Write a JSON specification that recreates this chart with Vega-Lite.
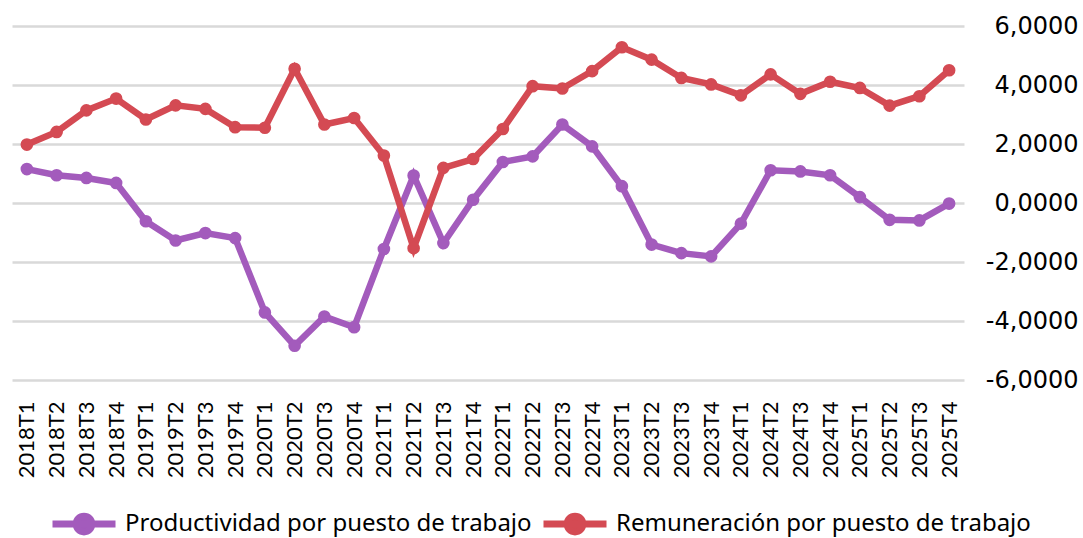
{
  "$schema": "https://vega.github.io/schema/vega-lite/v6.json",
  "width": 952,
  "height": 354,
  "autosize": {"type": "none"},
  "padding": {"left": 12, "top": 26, "right": 119, "bottom": 158},
  "background": "white",
  "config": {"view": {"stroke": null}, "font": "Lato"},
  "datasets": {
    "prod": [
      {"periodo": "2018T1", "valor": 1.15}, {"periodo": "2018T2", "valor": 0.94}, {"periodo": "2018T3", "valor": 0.85}, {"periodo": "2018T4", "valor": 0.68},
      {"periodo": "2019T1", "valor": -0.62}, {"periodo": "2019T2", "valor": -1.27}, {"periodo": "2019T3", "valor": -1.02}, {"periodo": "2019T4", "valor": -1.19},
      {"periodo": "2020T1", "valor": -3.71}, {"periodo": "2020T2", "valor": -4.84}, {"periodo": "2020T3", "valor": -3.85}, {"periodo": "2020T4", "valor": -4.21},
      {"periodo": "2021T1", "valor": -1.56}, {"periodo": "2021T2", "valor": 0.93}, {"periodo": "2021T3", "valor": -1.36}, {"periodo": "2021T4", "valor": 0.11},
      {"periodo": "2022T1", "valor": 1.39}, {"periodo": "2022T2", "valor": 1.58}, {"periodo": "2022T3", "valor": 2.66}, {"periodo": "2022T4", "valor": 1.92},
      {"periodo": "2023T1", "valor": 0.57}, {"periodo": "2023T2", "valor": -1.41}, {"periodo": "2023T3", "valor": -1.70}, {"periodo": "2023T4", "valor": -1.81},
      {"periodo": "2024T1", "valor": -0.70}, {"periodo": "2024T2", "valor": 1.11}, {"periodo": "2024T3", "valor": 1.07}, {"periodo": "2024T4", "valor": 0.94},
      {"periodo": "2025T1", "valor": 0.20}, {"periodo": "2025T2", "valor": -0.57}, {"periodo": "2025T3", "valor": -0.59}, {"periodo": "2025T4", "valor": -0.02}
    ],
    "rem": [
      {"periodo": "2018T1", "valor": 1.98}, {"periodo": "2018T2", "valor": 2.41}, {"periodo": "2018T3", "valor": 3.14}, {"periodo": "2018T4", "valor": 3.54},
      {"periodo": "2019T1", "valor": 2.83}, {"periodo": "2019T2", "valor": 3.31}, {"periodo": "2019T3", "valor": 3.19}, {"periodo": "2019T4", "valor": 2.57},
      {"periodo": "2020T1", "valor": 2.55}, {"periodo": "2020T2", "valor": 4.55}, {"periodo": "2020T3", "valor": 2.66}, {"periodo": "2020T4", "valor": 2.88},
      {"periodo": "2021T1", "valor": 1.61}, {"periodo": "2021T2", "valor": -1.53}, {"periodo": "2021T3", "valor": 1.19}, {"periodo": "2021T4", "valor": 1.49},
      {"periodo": "2022T1", "valor": 2.51}, {"periodo": "2022T2", "valor": 3.96}, {"periodo": "2022T3", "valor": 3.88}, {"periodo": "2022T4", "valor": 4.47},
      {"periodo": "2023T1", "valor": 5.28}, {"periodo": "2023T2", "valor": 4.86}, {"periodo": "2023T3", "valor": 4.24}, {"periodo": "2023T4", "valor": 4.02},
      {"periodo": "2024T1", "valor": 3.65}, {"periodo": "2024T2", "valor": 4.36}, {"periodo": "2024T3", "valor": 3.70}, {"periodo": "2024T4", "valor": 4.11},
      {"periodo": "2025T1", "valor": 3.90}, {"periodo": "2025T2", "valor": 3.30}, {"periodo": "2025T3", "valor": 3.62}, {"periodo": "2025T4", "valor": 4.50}
    ]
  },
  "data": {"name": "prod"},
  "transform": [
    {"calculate": "'Productividad por puesto de trabajo'", "as": "serie"}
  ],
  "layer": [
    {
      "mark": {"type": "line", "strokeWidth": 6.5, "point": {"filled": true, "size": 160}},
      "encoding": {}
    },
    {
      "data": {"name": "rem"},
      "transform": [
        {"calculate": "'Remuneración por puesto de trabajo'", "as": "serie"}
      ],
      "mark": {"type": "line", "strokeWidth": 6.5, "point": {"filled": true, "size": 160}},
      "encoding": {}
    }
  ],
  "encoding": {
    "x": {
      "field": "periodo", "type": "ordinal", "sort": null,
      "scale": {"type": "point", "padding": 0.5},
      "axis": {"title": null, "labelAngle": -90, "labelAlign": "right", "labelBaseline": "middle", "labelPadding": 21, "ticks": false, "tickSize": 0, "domain": false, "grid": false, "labelFontSize": 22, "labelColor": "#000000", "labelFont": "Lato"}
    },
    "y": {
      "field": "valor", "type": "quantitative",
      "scale": {"domain": [-6, 6], "nice": false, "zero": false},
      "axis": {"orient": "right", "values": [-6, -4, -2, 0, 2, 4, 6], "title": null, "domain": false, "ticks": false, "tickSize": 0, "labelAlign": "right", "labelPadding": 114, "labelFontSize": 24, "labelFont": "DejaVu Sans", "labelColor": "#000000", "gridColor": "#d9d9d9", "gridWidth": 2.5,
        "labelExpr": "(datum.value < 0 ? '-' : '') + replace(format(abs(datum.value), '.4f'), '.', ',')"}
    },
    "color": {
      "field": "serie", "type": "nominal",
      "sort": ["Productividad por puesto de trabajo", "Remuneración por puesto de trabajo"],
      "scale": {"domain": ["Productividad por puesto de trabajo", "Remuneración por puesto de trabajo"], "range": ["#A35BBC", "#D44A53"]},
      "legend": {
        "title": null, "orient": "none", "direction": "horizontal", "legendX": 37, "legendY": 463,
        "symbolType": "M-1,0L1,0M0.25,0A0.25,0.25,0,1,1,-0.25,0A0.25,0.25,0,1,1,0.25,0Z",
        "symbolSize": 3969, "symbolStrokeWidth": 7, "labelFontSize": 24, "labelFont": "Noto Sans", "labelColor": "#000000", "labelOffset": 6, "columnPadding": -3, "labelLimit": 600,
        "encode": {"symbols": {"update": {"fill": {"scale": "color", "field": "value"}, "stroke": {"scale": "color", "field": "value"}, "fillOpacity": {"value": 1}, "opacity": {"value": 1}}}}
      }
    }
  }
}
